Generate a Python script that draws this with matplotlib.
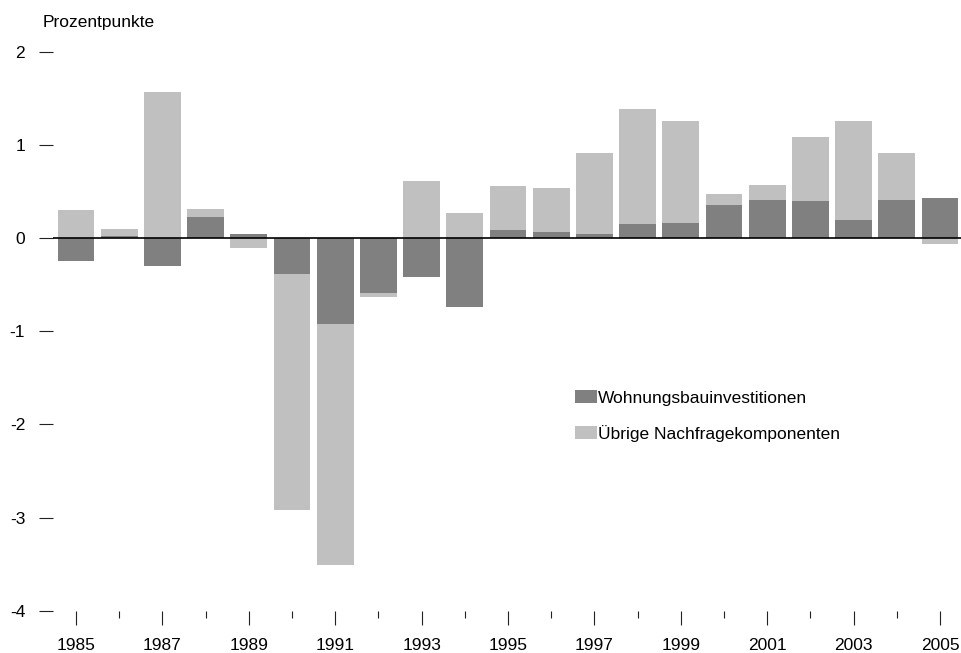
import matplotlib.pyplot as plt
import numpy as np

plt.rcParams['font.family'] = ['Liberation Sans', 'DejaVu Sans']

years = np.arange(1985, 2006)
wohnbau = [-0.24, 0.02, -0.30, 0.23, 0.05, -0.38, -0.92, -0.59, -0.42, -0.74, 0.09,
           0.07, 0.045, 0.15, 0.165, 0.36, 0.41, 0.40, 0.20, 0.41, 0.43]
uebrige = [0.30, 0.08, 1.57, 0.08, -0.11, -2.54, -2.59, -0.04, 0.61, 0.27, 0.47,
           0.47, 0.87, 1.24, 1.09, 0.11, 0.165, 0.69, 1.06, 0.50, -0.06]

wohnbau = np.array(wohnbau)
uebrige = np.array(uebrige)
# light bars sit on top of the dark ones when both point the same way
bottom = np.where(np.sign(uebrige) == np.sign(wohnbau), wohnbau, 0)

fig = plt.figure(figsize=(9.61, 6.53), dpi=100)
ax = fig.add_axes([53/961, 0.0648, 908/961, 0.8556])

ax.bar(years, wohnbau, width=0.85, color='#808080', label='Wohnungsbauinvestitionen')
ax.bar(years, uebrige, width=0.85, bottom=bottom, color='#c0c0c0',
       label='Übrige Nachfragekomponenten')
ax.axhline(0, color='black', lw=1.2)

ax.set_xlim(1984.468, 2005.486)
ax.set_ylim(-4, 2)
for s in ax.spines.values():
    s.set_visible(False)

ax.set_yticks([-4, -3, -2, -1, 0, 1, 2])
ax.set_yticklabels(['-4', '-3', '-2', '-1', '0', '1', '2'])
ax.set_xticks(np.arange(1985, 2006, 2))
ax.set_xticks(np.arange(1986, 2005, 2), minor=True)
ax.tick_params(axis='y', length=10, width=0.8, pad=10, labelsize=12.5, color='#222222')
ax.tick_params(axis='x', which='major', length=10, width=0.8, pad=10, labelsize=12.5, color='#222222')
ax.tick_params(axis='x', which='minor', length=5, width=0.8, color='#222222')

fig.text(43/961, 1 - 22/653, 'Prozentpunkte', fontsize=12.5, va='center', ha='left')

ax.legend(loc='upper left', bbox_to_anchor=(575/961, 1 - 390/653),
          bbox_transform=fig.transFigure, frameon=False, fontsize=12.5,
          handlelength=1.25, handleheight=0.8, handletextpad=0.05,
          labelspacing=1.1, borderpad=0, borderaxespad=0)

fig.savefig('out.png', dpi=100)
